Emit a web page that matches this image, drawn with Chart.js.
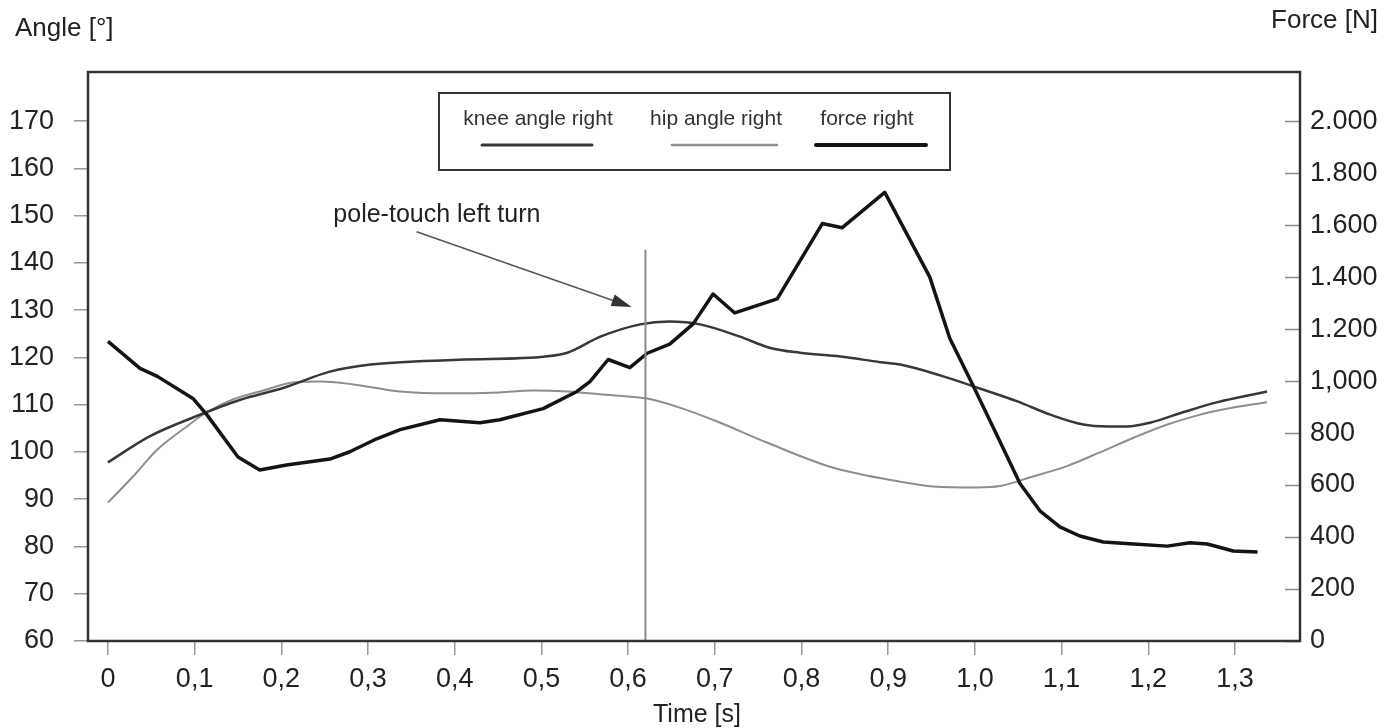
<!DOCTYPE html>
<html>
<head>
<meta charset="utf-8">
<script src="https://cdn.jsdelivr.net/npm/chart.js@4.4.1/dist/chart.umd.min.js"></script>
<style>
  html, body { margin: 0; padding: 0; background: #fff; }
  #wrap { width: 1389px; height: 728px; }
</style>
</head>
<body>
<div id="wrap"><canvas id="c" width="1389" height="728"></canvas></div>
<script>
// ---- data ----
const kneeTime  = [0, 0.048, 0.101, 0.152, 0.203, 0.256, 0.303, 0.404, 0.505, 0.530, 0.568, 0.614, 0.648, 0.683, 0.729, 0.764, 0.798, 0.845, 0.891, 0.914, 0.960, 1.003, 1.049, 1.087, 1.125, 1.153, 1.176, 1.202, 1.240, 1.279, 1.337];
const kneeAngle = [97.8, 103.3, 107.5, 111.0, 113.6, 117.0, 118.5, 119.5, 120.2, 121.0, 124.4, 127.0, 127.6, 127.0, 124.4, 122.0, 121.0, 120.2, 119.0, 118.5, 116.2, 113.6, 110.7, 107.9, 105.8, 105.4, 105.4, 106.2, 108.4, 110.5, 112.8];

const hipTime  = [0, 0.029, 0.057, 0.091, 0.114, 0.144, 0.183, 0.213, 0.245, 0.283, 0.337, 0.394, 0.452, 0.490, 0.530, 0.567, 0.622, 0.656, 0.702, 0.760, 0.836, 0.914, 0.952, 1.003, 1.029, 1.067, 1.106, 1.144, 1.183, 1.222, 1.260, 1.298, 1.337];
const hipAngle = [89.3, 94.8, 100.5, 105.4, 108.4, 111.1, 113.2, 114.7, 114.9, 114.3, 112.8, 112.4, 112.6, 113.0, 112.8, 112.2, 111.3, 109.6, 106.5, 102.0, 96.7, 93.7, 92.7, 92.5, 92.8, 94.8, 97.0, 99.9, 103.0, 105.8, 107.9, 109.4, 110.5];

const forceTime = [0, 0.037, 0.057, 0.098, 0.114, 0.150, 0.175, 0.206, 0.256, 0.279, 0.310, 0.337, 0.383, 0.429, 0.452, 0.502, 0.541, 0.556, 0.577, 0.602, 0.622, 0.648, 0.675, 0.698, 0.723, 0.772, 0.824, 0.847, 0.896, 0.948, 0.971, 0.998, 1.026, 1.052, 1.075, 1.098, 1.121, 1.148, 1.183, 1.222, 1.248, 1.268, 1.298, 1.326];
const forceN    = [1153, 1049, 1018, 933, 871, 708, 658, 677, 700, 728, 778, 813, 851, 840, 851, 894, 960, 998, 1083, 1052, 1107, 1142, 1220, 1335, 1262, 1316, 1606, 1590, 1726, 1400, 1165, 982, 788, 606, 501, 439, 404, 381, 373, 365, 378, 373, 346, 342];

const timeTicks       = [0, 0.1, 0.2, 0.3, 0.4, 0.5, 0.6, 0.7, 0.8, 0.9, 1.0, 1.1, 1.2, 1.3];
const timeTickLabels  = ['0', '0,1', '0,2', '0,3', '0,4', '0,5', '0,6', '0,7', '0,8', '0,9', '1,0', '1,1', '1,2', '1,3'];
const angleTicks      = [60, 70, 80, 90, 100, 110, 120, 130, 140, 150, 160, 170];
const forceTicks      = [0, 200, 400, 600, 800, 1000, 1200, 1400, 1600, 1800, 2000];
const forceTickLabels = ['0', '200', '400', '600', '800', '1,000', '1.200', '1.400', '1.600', '1.800', '2.000'];

const seriesNames = ['knee angle right', 'hip angle right', 'force right'];

// pole-touch marker (time in s, top end in degrees) and its callout
const markerTime = 0.62;
const markerTop  = 142.8;
const calloutText  = 'pole-touch left turn';
const calloutLabel = { t: 0.26, a: 148.7 };
const calloutArrow = { t0: 0.356, a0: 146.6, t1: 0.604, a1: 130.7 };

const FONT = "'Liberation Sans', Arial, sans-serif";
const INK = '#222';

function pts(xs, ys) { return xs.map((x, i) => ({ x: x, y: ys[i] })); }

const decor = {
  id: 'decor',
  afterDraw(chart) {
    const ctx = chart.ctx;
    const a = chart.chartArea;
    const sx = chart.scales.x, sa = chart.scales.yA, sf = chart.scales.yF;
    ctx.save();

    // right-axis ticks point inward
    ctx.strokeStyle = '#8a8a8a';
    ctx.lineWidth = 1.5;
    forceTicks.forEach(v => {
      const y = Math.round(sf.getPixelForValue(v)) + 0.5;
      ctx.beginPath(); ctx.moveTo(a.right - 15, y); ctx.lineTo(a.right, y); ctx.stroke();
    });

    // marker line
    const mx = sx.getPixelForValue(markerTime);
    ctx.strokeStyle = '#8c8c8c';
    ctx.lineWidth = 2;
    ctx.beginPath(); ctx.moveTo(mx, sa.getPixelForValue(markerTop)); ctx.lineTo(mx, a.bottom); ctx.stroke();

    // callout arrow
    const x0 = sx.getPixelForValue(calloutArrow.t0), y0 = sa.getPixelForValue(calloutArrow.a0);
    const x1 = sx.getPixelForValue(calloutArrow.t1), y1 = sa.getPixelForValue(calloutArrow.a1);
    const ang = Math.atan2(y1 - y0, x1 - x0);
    ctx.strokeStyle = '#555';
    ctx.lineWidth = 1.6;
    ctx.beginPath(); ctx.moveTo(x0, y0); ctx.lineTo(x1 - 12 * Math.cos(ang), y1 - 12 * Math.sin(ang)); ctx.stroke();
    ctx.fillStyle = '#333';
    ctx.beginPath();
    ctx.moveTo(x1, y1);
    ctx.lineTo(x1 - 20 * Math.cos(ang) + 6 * Math.sin(ang), y1 - 20 * Math.sin(ang) - 6 * Math.cos(ang));
    ctx.lineTo(x1 - 20 * Math.cos(ang) - 6 * Math.sin(ang), y1 - 20 * Math.sin(ang) + 6 * Math.cos(ang));
    ctx.closePath(); ctx.fill();

    // callout text
    ctx.fillStyle = INK;
    ctx.font = '25px ' + FONT;
    ctx.textAlign = 'left';
    ctx.textBaseline = 'alphabetic';
    ctx.fillText(calloutText, sx.getPixelForValue(calloutLabel.t), sa.getPixelForValue(calloutLabel.a));

    // plot frame
    ctx.strokeStyle = '#333';
    ctx.lineWidth = 2.5;
    ctx.strokeRect(a.left, a.top, a.right - a.left, a.bottom - a.top);

    // legend: label above a line sample, inside a framed box
    ctx.lineWidth = 2;
    ctx.strokeStyle = '#333';
    ctx.fillStyle = '#fff';
    ctx.fillRect(439, 93, 511, 77);
    ctx.strokeRect(439, 93, 511, 77);
    const legendOrder = [0, 1, 2];
    const textCx = [538, 716, 867];
    const lineX = [[482, 592], [672, 777], [816, 926]];
    const lineW = [3, 2.5, 4];
    ctx.font = '21px ' + FONT;
    ctx.textAlign = 'center';
    legendOrder.forEach((di, k) => {
      const ds = chart.data.datasets[di];
      ctx.fillStyle = '#333';
      ctx.fillText(ds.label, textCx[k], 125);
      ctx.strokeStyle = ds.borderColor;
      ctx.lineWidth = lineW[k];
      ctx.lineCap = 'round';
      ctx.beginPath(); ctx.moveTo(lineX[k][0], 145); ctx.lineTo(lineX[k][1], 145); ctx.stroke();
    });
    ctx.lineCap = 'butt';

    // axis titles
    ctx.fillStyle = INK;
    ctx.font = '26px ' + FONT;
    ctx.textAlign = 'left';
    ctx.fillText('Angle [°]', 15, 36);
    ctx.textAlign = 'right';
    ctx.fillText('Force [N]', 1378, 28);
    ctx.textAlign = 'center';
    ctx.font = '25px ' + FONT;
    ctx.fillText('Time [s]', 697, 722);

    ctx.restore();
  }
};

const tickFont = { family: FONT, size: 27 };

new Chart(document.getElementById('c'), {
  type: 'line',
  data: {
    datasets: [
      { label: seriesNames[0], data: pts(kneeTime, kneeAngle), yAxisID: 'yA', borderColor: '#383838', borderWidth: 2.5,
        cubicInterpolationMode: 'monotone', pointRadius: 0, fill: false, order: 2 },
      { label: seriesNames[1], data: pts(hipTime, hipAngle), yAxisID: 'yA', borderColor: '#8e8e8e', borderWidth: 2,
        cubicInterpolationMode: 'monotone', pointRadius: 0, fill: false, order: 3 },
      { label: seriesNames[2], data: pts(forceTime, forceN), yAxisID: 'yF', borderColor: '#141414', borderWidth: 3.5,
        tension: 0, pointRadius: 0, fill: false, order: 1, borderJoinStyle: 'round' }
    ]
  },
  options: {
    responsive: false,
    devicePixelRatio: 1,
    animation: false,
    events: [],
    layout: { padding: { top: 72, left: 0, right: 0, bottom: 0 } },
    plugins: { legend: { display: false }, tooltip: { enabled: false } },
    scales: {
      x: {
        type: 'linear', position: 'bottom', min: -0.023, max: 1.375,
        afterBuildTicks: s => { s.ticks = timeTicks.map(v => ({ value: v })); },
        afterFit: s => { s.height = 87; },
        grid: { drawOnChartArea: false, drawTicks: true, tickLength: 14, color: '#999', lineWidth: 1.5 },
        border: { display: false },
        ticks: { font: tickFont, color: INK, padding: 8, maxRotation: 0, autoSkip: false,
                 callback: (v, i) => timeTickLabels[i] }
      },
      yA: {
        type: 'linear', position: 'left', min: 60, max: 180.4,
        afterBuildTicks: s => { s.ticks = angleTicks.map(v => ({ value: v })); },
        afterFit: s => { s.width = 88; },
        grid: { drawOnChartArea: false, drawTicks: true, tickLength: 14, color: '#999', lineWidth: 1.5 },
        border: { display: false },
        ticks: { font: tickFont, color: INK, padding: 20, autoSkip: false, callback: v => String(v) }
      },
      yF: {
        type: 'linear', position: 'right', min: 0, max: 2189,
        afterBuildTicks: s => { s.ticks = forceTicks.map(v => ({ value: v })); },
        afterFit: s => { s.width = 89; },
        grid: { drawOnChartArea: false, drawTicks: false },
        border: { display: false },
        ticks: { font: tickFont, color: INK, padding: 10, autoSkip: false,
                 callback: (v, i) => forceTickLabels[i] }
      }
    }
  },
  plugins: [decor]
});
</script>
</body>
</html>
